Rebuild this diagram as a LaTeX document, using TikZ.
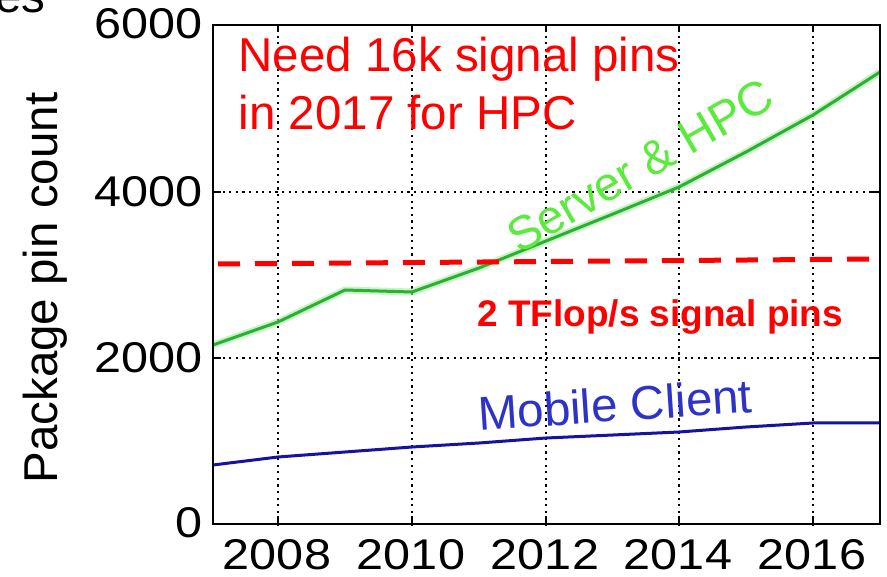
\documentclass[tikz,border=0pt]{standalone}
\usepackage{fontspec}
\setmainfont{Liberation Sans}
\newfontfamily\tickfont[FakeStretch=1.13]{Liberation Sans}
\definecolor{pinred}{RGB}{255,0,0}
\definecolor{srvtext}{RGB}{90,235,60}
\definecolor{srvline}{RGB}{45,175,55}
\definecolor{srvhalo}{RGB}{160,240,150}
\definecolor{mobtext}{RGB}{45,50,200}
\definecolor{mobline}{RGB}{20,20,160}
\tikzset{
  frame/.style={draw=black,line width=1.6pt},
  griddot/.style={fill=black},
  tickmark/.style={black,line width=1.4pt},
  ticklabel/.style={inner sep=0pt,font=\tickfont\fontsize{43}{43}\selectfont},
  biglabel/.style={inner sep=0pt,font=\fontsize{47.5}{57}\selectfont},
  serverline/.style={srvline,line width=3pt,line join=round},
  serverhalo/.style={srvhalo,line width=7pt,line join=round,opacity=0.6},
  mobileline/.style={mobline,line width=3pt,line join=round},
  limitline/.style={pinred,line width=5pt,dash pattern=on 22pt off 15pt}
}
\begin{document}
\begin{tikzpicture}[x=1pt,y=-1pt]
\clip (0,0) rectangle (887,577);
\fill[white] (0,0) rectangle (887,577);

% plot area corners
\coordinate (bl) at (213,524);
\coordinate (tr) at (880,25);

% dotted grid, one small square per dot
\foreach \gx in {278,412,546,679,813}
  \foreach \d in {0,...,75}
    \fill[griddot] ({\gx-1},{29+\d*6.6}) rectangle ++(2.2,2.2);
\foreach \gy in {192,358}
  \foreach \d in {0,...,100}
    \fill[griddot] ({216+\d*6.6},{\gy-1}) rectangle ++(2.2,2.2);

% inward tick marks on all four sides
\foreach \gx in {278,412,546,679,813} {
  \draw[tickmark] (\gx,524) -- (\gx,516);
  \draw[tickmark] (\gx,25) -- (\gx,32);
}
\foreach \gy in {192,358} {
  \draw[tickmark] (213,\gy) -- (221,\gy);
  \draw[tickmark] (880,\gy) -- (872,\gy);
}

% series: mobile client
\draw[mobileline] (213,465) -- (278,457) -- (345,452) -- (412,447) -- (479,443)
  -- (546,438) -- (613,435) -- (679,432) -- (746,427) -- (813,423) -- (880,423);

% series: server & HPC
\draw[serverhalo] (213,345) -- (278,322) -- (345,290) -- (412,292) -- (479,268)
  -- (546,241) -- (613,214) -- (679,187) -- (746,152) -- (813,115) -- (880,72);
\draw[serverline] (213,345) -- (278,322) -- (345,290) -- (412,292) -- (479,268)
  -- (546,241) -- (613,214) -- (679,187) -- (746,152) -- (813,115) -- (880,72);

% signal pin limit
\coordinate (limA) at (218,264);
\coordinate (limB) at (880,259);
\draw[limitline] (limA) -- (limB);

% frame
\draw[frame] (bl) rectangle (tr);

% tick labels
\node[ticklabel,anchor=east] (y6) at (203,24) {6000};
\node[ticklabel,anchor=east] (y4) at (203,192) {4000};
\node[ticklabel,anchor=east] (y2) at (203,358) {2000};
\node[ticklabel,anchor=east] (y0) at (203,523) {0};
\node[ticklabel] (x08) at (277,555) {2008};
\node[ticklabel] (x10) at (411,555) {2010};
\node[ticklabel] (x12) at (545,555) {2012};
\node[ticklabel] (x14) at (678,555) {2014};
\node[ticklabel] (x16) at (812,555) {2016};

% axis title
\node[biglabel,rotate=90,anchor=base] (ytitle) at (57,288) {Package pin count};
\node[biglabel,anchor=base east] (cut) at (45.5,13) {es};

% annotations
\node[biglabel,text=pinred,anchor=base west] (need1) at (238.5,72) {Need 16k signal pins};
\node[biglabel,text=pinred,anchor=base west] (need2) at (238.5,130) {in 2017 for HPC};
\node[inner sep=0pt,text=pinred,anchor=base west,font=\bfseries\fontsize{37}{37}\selectfont] (tflop) at (477,327) {2 TFlop/s signal pins};
\node[biglabel,text=srvtext,rotate=30] (srv) at (640,166) {Server \& HPC};
\node[biglabel,text=mobtext,rotate=3.8,anchor=base west] (mob) at (479,430.5) {Mobile Client};
\end{tikzpicture}
\end{document}
